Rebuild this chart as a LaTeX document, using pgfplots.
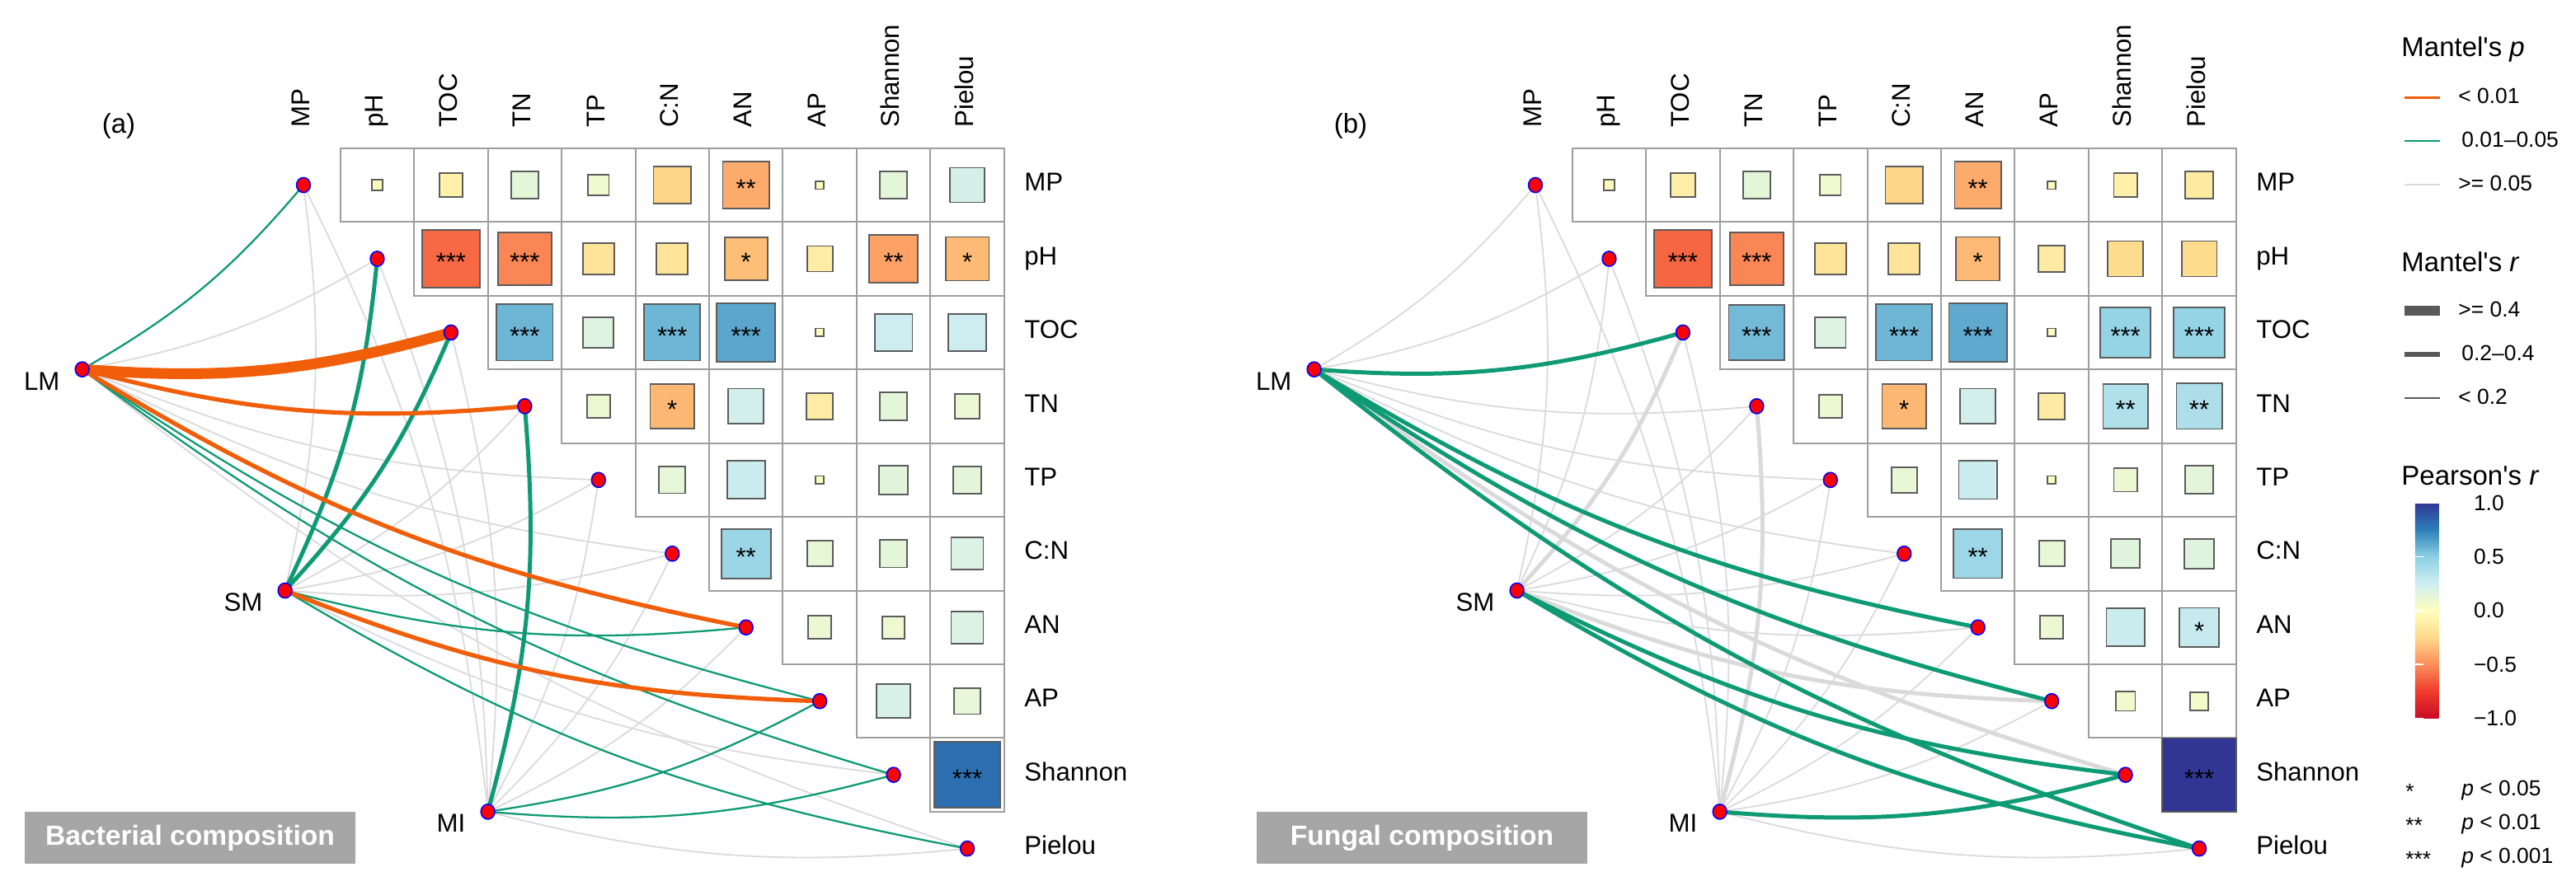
\documentclass[border=0pt]{standalone}
\usepackage{pgfplots}
\pgfplotsset{compat=1.18}
\usepackage{pgfplotstable}
\usepackage{fontspec}
\setmainfont{Liberation Sans}

\definecolor{pO}{RGB}{240,94,10}
\definecolor{pG}{RGB}{14,154,116}
\definecolor{pN}{RGB}{218,218,218}
\definecolor{rK}{RGB}{89,89,89}
\definecolor{gridC}{RGB}{158,158,158}
\definecolor{sqC}{RGB}{92,92,92}
\definecolor{boxC}{RGB}{166,166,166}

\newcommand\labfont{\fontsize{15.6pt}{18pt}\selectfont}
\newcommand\starfont{\fontsize{15.5pt}{18pt}\selectfont}
\newcommand\panfont{\fontsize{16.5pt}{19pt}\selectfont}
\newcommand\boxfont{\fontsize{16.8pt}{19pt}\selectfont\bfseries}
\newcommand\ttlfont{\fontsize{16.5pt}{19pt}\selectfont}
\newcommand\lgfont{\fontsize{13.2pt}{15pt}\selectfont}

\pgfplotsset{
  colormap={pear}{rgb255=(200,11,38) rgb255=(240,59,44) rgb255=(252,141,89)
    rgb255=(254,217,138) rgb255=(255,255,191) rgb255=(207,238,240)
    rgb255=(141,208,228) rgb255=(44,127,184) rgb255=(49,54,149)},
  panel/.style={scale only axis, hide axis, clip=false, y dir=reverse,
    anchor=north west, height=537.5pt, xmin=-4.114, ymin=-2.510, ymax=9.508,
    colormap name=pear, point meta min=-1, point meta max=1},
}

\tikzset{
  eN1/.style={draw=pN, line width=0.9pt},
  eN2/.style={draw=pN, line width=2.5pt},
  eG1/.style={draw=pG, line width=1.15pt},
  eG2/.style={draw=pG, line width=2.5pt},
  eO2/.style={draw=pO, line width=2.6pt},
  eO3/.style={draw=pO, line width=6.5pt},
  tl/.style={rotate=90, anchor=west, inner sep=0pt, text height=0.72em, text depth=0pt, font=\labfont},
  rl/.style={anchor=west, inner sep=0pt, text height=0.72em, text depth=0pt, font=\labfont},
  sl/.style={anchor=east, inner sep=0pt, text height=0.72em, text depth=0pt, font=\labfont},
  ttl/.style={anchor=base west, inner sep=0pt, font=\ttlfont},
  lg/.style={anchor=west, inner sep=0pt, text height=0.72em, text depth=0pt, font=\lgfont},
}

% edge: source, target index, style
\newcommand\E[3]{\draw[#3] (#1) to[bend right=10] (v#2);}

% Pearson's r between the variables (column c, row)
\pgfplotstableread{
c row r
1 0 -0.02
2 0 -0.10
3 0 0.14
4 0 0.08
5 0 -0.26
6 0 -0.40
7 0 -0.012
8 0 0.14
9 0 0.22
2 1 -0.61
3 1 -0.52
4 1 -0.18
5 1 -0.18
6 1 -0.34
7 1 -0.12
8 1 -0.43
9 1 -0.35
3 2 0.58
4 2 0.17
5 2 0.58
6 2 0.63
7 2 0.012
8 2 0.26
9 2 0.26
4 3 0.10
5 3 -0.36
6 3 0.23
7 3 -0.125
8 3 0.14
9 3 0.11
5 4 0.13
6 4 0.265
7 4 0.012
8 4 0.15
9 4 0.14
6 5 0.45
7 5 0.12
8 5 0.14
9 5 0.19
7 6 0.10
8 6 0.09
9 6 0.19
8 7 0.21
9 7 0.125
9 8 0.81
}\cellsA

\pgfplotstableread{
c row r
1 0 -0.02
2 0 -0.11
3 0 0.14
4 0 0.08
5 0 -0.26
6 0 -0.40
7 0 -0.012
8 0 -0.10
9 0 -0.14
2 1 -0.62
3 1 -0.52
4 1 -0.18
5 1 -0.18
6 1 -0.35
7 1 -0.13
8 1 -0.23
9 1 -0.23
3 2 0.57
4 2 0.175
5 2 0.58
6 2 0.62
7 2 0.012
8 2 0.47
9 2 0.47
4 3 0.10
5 3 -0.36
6 3 0.23
7 3 -0.13
8 3 0.37
9 3 0.38
5 4 0.12
6 4 0.27
7 4 0.012
8 4 0.10
9 4 0.145
6 5 0.44
7 5 0.12
8 5 0.155
9 5 0.165
7 6 0.10
8 6 0.265
9 6 0.28
8 7 0.07
9 7 0.06
9 8 1.0
}\cellsB

\pgfplotstableread{
c row s
6 0 **
2 1 ***
3 1 ***
6 1 *
8 1 **
9 1 *
3 2 ***
5 2 ***
6 2 ***
5 3 *
6 5 **
9 8 ***
}\starsA

\pgfplotstableread{
c row s
6 0 **
2 1 ***
3 1 ***
6 1 *
3 2 ***
5 2 ***
6 2 ***
8 2 ***
9 2 ***
5 3 *
8 3 **
9 3 **
6 5 **
9 6 *
9 8 ***
}\starsB

% network nodes: variables on the diagonal, then LM, SM, MI
\pgfplotstableread{
x y
0 0
1 1
2 2
3 3
4 4
5 5
6 6
7 7
8 8
9 9
-3 2.5
-0.25 5.5
2.5 8.5
}\nodesT

\newcommand\setnodes{%
  \coordinate (LM) at (axis cs:-3,2.5);
  \coordinate (SM) at (axis cs:-0.25,5.5);
  \coordinate (MI) at (axis cs:2.5,8.5);
  \pgfplotsinvokeforeach{0,...,9}{\coordinate (v##1) at (axis cs:##1,##1);}
}

\newcommand\varlabels{%
  \node[tl] at (axis cs:0,-0.777) {MP};
  \node[tl] at (axis cs:1,-0.777) {pH};
  \node[tl] at (axis cs:2,-0.777) {TOC};
  \node[tl] at (axis cs:3,-0.777) {TN};
  \node[tl] at (axis cs:4,-0.777) {TP};
  \node[tl] at (axis cs:5,-0.777) {C:N};
  \node[tl] at (axis cs:6,-0.777) {AN};
  \node[tl] at (axis cs:7,-0.777) {AP};
  \node[tl] at (axis cs:8,-0.777) {Shannon};
  \node[tl] at (axis cs:9,-0.777) {Pielou};
  \node[rl] at (axis cs:9.77,0) {MP};
  \node[rl] at (axis cs:9.77,1) {pH};
  \node[rl] at (axis cs:9.77,2) {TOC};
  \node[rl] at (axis cs:9.77,3) {TN};
  \node[rl] at (axis cs:9.77,4) {TP};
  \node[rl] at (axis cs:9.77,5) {C:N};
  \node[rl] at (axis cs:9.77,6) {AN};
  \node[rl] at (axis cs:9.77,7) {AP};
  \node[rl] at (axis cs:9.77,8) {Shannon};
  \node[rl] at (axis cs:9.77,9) {Pielou};
  \node[sl] at (axis cs:-3.3,2.7) {LM};
  \node[sl] at (axis cs:-0.55,5.7) {SM};
  \node[sl] at (axis cs:2.2,8.7) {MI};
}

\newcommand\panelplots[2]{%
  \addplot[only marks, mark=square, mark size=22.36pt,
    mark options={draw=gridC, line width=1pt}] table[x=c, y=row] {#1};
}
\newcommand\cellplots[2]{%
  \addplot[scatter, only marks, mark=square*, scatter src=explicit,
    scatter/use mapped color={draw=sqC, fill=mapped color},
    mark options={line width=0.9pt},
    visualization depends on={sqrt(abs(\thisrow{r}))*22.36 \as \msz},
    scatter/@pre marker code/.append style={/tikz/mark size=\msz}]
    table[x=c, y=row, meta=r] {#1};
  \addplot[draw=none, point meta=explicit symbolic, nodes near coords,
    nodes near coords align=center,
    every node near coord/.append style={font=\starfont, inner sep=0pt, yshift=-0.21em}]
    table[x=c, y=row, meta=s] {#2};
  \addplot[only marks, mark=*, mark size=4.2pt,
    mark options={fill=red, draw=blue, line width=0.8pt, yscale=1.08}]
    table[x=x, y=y] {\nodesT};
}

\begin{document}
\begin{tikzpicture}
% ---------------- panel (a)
\begin{axis}[panel, at={(0pt,0pt)}, width=747pt, xmax=12.588]
\setnodes
\panelplots{\cellsA}{}
\E{LM}{1}{eN1} \E{LM}{4}{eN1} \E{LM}{5}{eN1} \E{LM}{9}{eN1}
\E{SM}{0}{eN1} \E{SM}{3}{eN1} \E{SM}{4}{eN1} \E{SM}{5}{eN1} \E{SM}{8}{eN1}
\E{MI}{0}{eN1} \E{MI}{1}{eN1} \E{MI}{2}{eN1} \E{MI}{4}{eN1} \E{MI}{5}{eN1}
\E{MI}{6}{eN1} \E{MI}{9}{eN1}
\E{LM}{0}{eG1} \E{LM}{7}{eG1} \E{LM}{8}{eG1}
\E{SM}{1}{eG2} \E{SM}{2}{eG2} \E{SM}{6}{eG1} \E{SM}{9}{eG1}
\E{MI}{3}{eG2} \E{MI}{7}{eG1} \E{MI}{8}{eG1}
\E{LM}{2}{eO3} \E{LM}{3}{eO2} \E{LM}{6}{eO2} \E{SM}{7}{eO2}
\cellplots{\cellsA}{\starsA}
\varlabels
\node[font=\panfont] at (axis cs:-2.504,-0.80) {(a)};
\node[fill=boxC, text=white, font=\boxfont, minimum width=200.5pt,
  minimum height=31.5pt, inner sep=0pt] at (axis cs:-1.537,8.854) {Bacterial composition};
\end{axis}
% ---------------- panel (b)
\begin{axis}[panel, at={(747pt,0pt)}, width=815pt, xmax=14.109]
\setnodes
\panelplots{\cellsB}{}
\E{LM}{0}{eN1} \E{LM}{1}{eN1} \E{LM}{3}{eN1} \E{LM}{4}{eN1} \E{LM}{5}{eN1}
\E{SM}{0}{eN1} \E{SM}{1}{eN1} \E{SM}{3}{eN1} \E{SM}{4}{eN1} \E{SM}{5}{eN1}
\E{SM}{6}{eN1}
\E{MI}{0}{eN1} \E{MI}{1}{eN1} \E{MI}{2}{eN1} \E{MI}{4}{eN1} \E{MI}{5}{eN1}
\E{MI}{6}{eN1} \E{MI}{7}{eN1} \E{MI}{9}{eN1}
\E{LM}{8}{eN2} \E{SM}{2}{eN2} \E{SM}{7}{eN2} \E{MI}{3}{eN2}
\E{LM}{2}{eG2} \E{LM}{6}{eG2} \E{LM}{7}{eG2} \E{LM}{9}{eG2}
\E{SM}{8}{eG2} \E{SM}{9}{eG2} \E{MI}{8}{eG2}
\cellplots{\cellsB}{\starsB}
\varlabels
\node[font=\panfont] at (axis cs:-2.504,-0.80) {(b)};
\node[fill=boxC, text=white, font=\boxfont, minimum width=200.5pt,
  minimum height=31.5pt, inner sep=0pt] at (axis cs:-1.537,8.854) {Fungal composition};
\end{axis}
% ---------------- legends (pixel units)
\begin{axis}[at={(1440pt,0pt)}, anchor=north west, scale only axis, hide axis,
  clip=false, width=122pt, height=537.5pt, xmin=2880, xmax=3124,
  ymin=0, ymax=1075, y dir=reverse,
  colormap name=pear, point meta min=-1, point meta max=1,
  colorbar,
  colorbar style={
    at={(parent axis.north east)}, anchor=north west,
    xshift=-106.15pt, yshift=-305pt,
    scale only axis, width=25.8pt, height=130.85pt,
    y dir=normal, axis on top,
    ytick={-1,-0.5,0,0.5,1},
    yticklabels={−1.0,−0.5,0.0,0.5,1.0},
    ytick pos=both, yticklabel pos=right,
    tick align=inside, major tick length=5pt,
    every tick/.style={white, line width=0.8pt},
    axis line style={draw=none},
    yticklabel style={font=\lgfont, inner sep=0pt, anchor=west, xshift=9.6pt},
  }]
\addplot[pO, line width=1.4pt] coordinates {(2916,118.6) (2959,118.6)};
\addplot[pG, line width=1.4pt] coordinates {(2916,171) (2959,171)};
\addplot[pN, line width=1.4pt] coordinates {(2916,224) (2959,224)};
\addplot[rK, line width=6pt] coordinates {(2916,377) (2959,377)};
\addplot[rK, line width=2.75pt] coordinates {(2916,430) (2959,430)};
\addplot[rK, line width=1pt] coordinates {(2916,483) (2959,483)};
\node[ttl] at (axis cs:2912,68.5) {Mantel\textquotesingle s \textit{p}};
\node[lg] at (axis cs:2981,118.6) {< 0.01};
\node[lg] at (axis cs:2985,171) {0.01–0.05};
\node[lg] at (axis cs:2981,224) {>= 0.05};
\node[ttl] at (axis cs:2912,329) {Mantel\textquotesingle s \textit{r}};
\node[lg] at (axis cs:2981,377) {>= 0.4};
\node[lg] at (axis cs:2985,430) {0.2–0.4};
\node[lg] at (axis cs:2981,483) {< 0.2};
\node[ttl] at (axis cs:2912,588) {Pearson\textquotesingle s \textit{r}};
\node[lg, yshift=-0.21em] at (axis cs:2917,958) {*};
\node[lg, yshift=-0.21em] at (axis cs:2917,999) {**};
\node[lg, yshift=-0.21em] at (axis cs:2917,1040) {***};
\node[lg] at (axis cs:2985,958) {\textit{p} < 0.05};
\node[lg] at (axis cs:2985,999) {\textit{p} < 0.01};
\node[lg] at (axis cs:2985,1040) {\textit{p} < 0.001};
\end{axis}
\pgfresetboundingbox
\path[use as bounding box] (0pt,0pt) rectangle (1562pt,-537.5pt);
\end{tikzpicture}
\end{document}
